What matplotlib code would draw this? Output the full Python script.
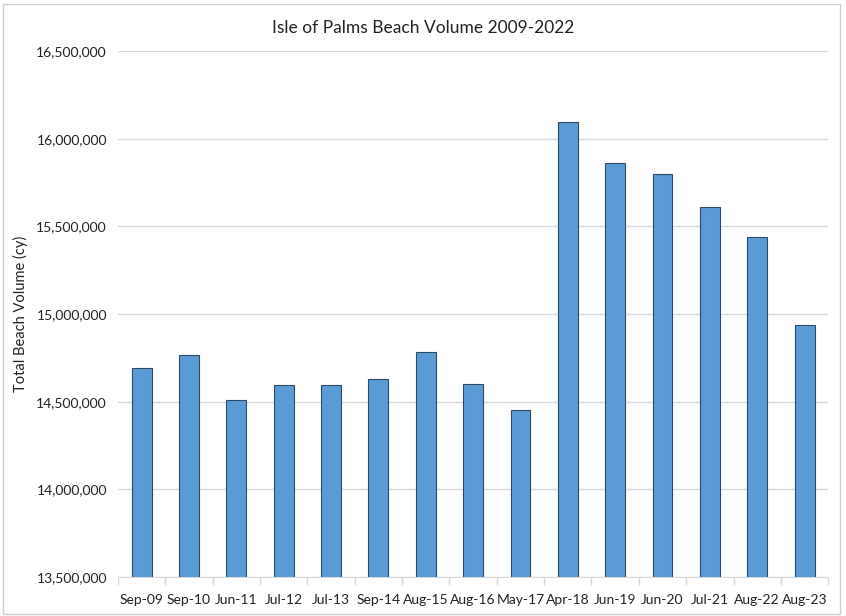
import matplotlib
matplotlib.use("Agg")
import matplotlib.pyplot as plt
import numpy as np
from matplotlib.ticker import FuncFormatter, FixedLocator
from matplotlib.patches import Rectangle

categories = ["Sep-09", "Sep-10", "Jun-11", "Jul-12", "Jul-13", "Sep-14", "Aug-15",
              "Aug-16", "May-17", "Apr-18", "Jun-19", "Jun-20", "Jul-21", "Aug-22", "Aug-23"]
volumes = [14695000, 14766000, 14510000, 14597000, 14597000, 14630000, 14785000,
           14602000, 14450000, 16097000, 15861000, 15798000, 15610000, 15439000, 14935000]
title = "Isle of Palms Beach Volume 2009-2022"
ylabel = "Total Beach Volume (cy)"

plt.rcParams['font.family'] = ['Lato', 'DejaVu Sans']

fig = plt.figure(figsize=(8.46, 6.16), dpi=100)
ax = fig.add_axes([0.1395, 0.0633, 0.8395, 0.8537])

x = np.arange(len(categories))
ax.bar(x, volumes, width=0.42, color="#5B9BD5", edgecolor="#2E4A66", linewidth=0.8, zorder=3)

ax.set_ylim(13500000, 16500000)
ax.set_xlim(-0.5, len(categories) - 0.5)
ax.set_yticks(np.arange(13500000, 16500001, 500000))
ax.yaxis.set_major_formatter(FuncFormatter(lambda v, p: f"{int(v):,}"))
ax.grid(axis="y", color="#D9D9D9", linewidth=1, zorder=0)
ax.set_xticks(x)
ax.set_xticklabels(categories, fontsize=10, color="#222222")
ax.tick_params(axis="x", which="major", length=0, pad=12)
ax.xaxis.set_minor_locator(FixedLocator(np.arange(-0.5, len(categories), 1)))
ax.tick_params(axis="x", which="minor", length=6, color="#D9D9D9", width=1)
ax.tick_params(axis="y", length=0, labelsize=10, labelcolor="#222222", pad=8)
for s in ["left", "right", "top"]:
    ax.spines[s].set_visible(False)
ax.spines["bottom"].set_color("#D9D9D9")
ax.set_ylabel(ylabel, fontsize=10.5, color="#222222")
ax.yaxis.set_label_coords(-0.127, 0.5)
fig.text(0.5, 0.955, title, ha="center", va="center", fontsize=12.5, color="#222222")

fig.patches.append(Rectangle((0.003, 0.003), 0.99, 0.99, transform=fig.transFigure,
                             fill=False, edgecolor="#D0D0D0", linewidth=1))

fig.savefig("out.png", dpi=100)
